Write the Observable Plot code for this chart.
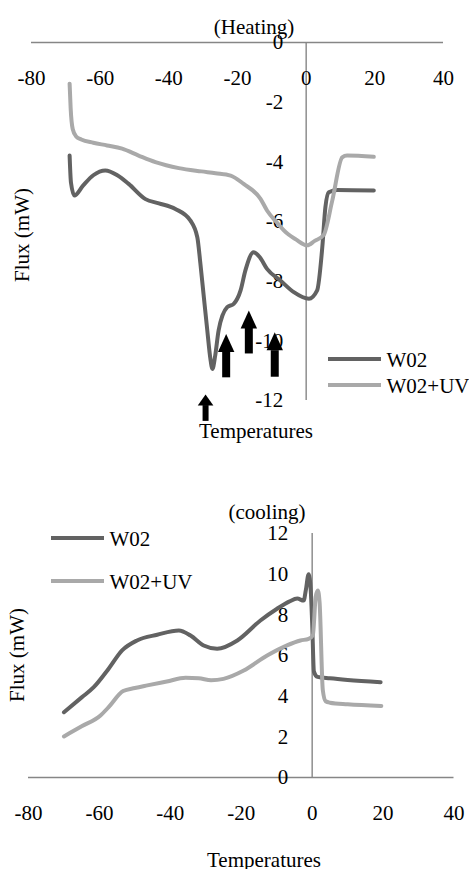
<!DOCTYPE html>
<html>
<head>
<meta charset="utf-8">
<script src="https://cdn.jsdelivr.net/npm/d3@7"></script>
<script src="https://cdn.jsdelivr.net/npm/@observablehq/plot@0.6"></script>
<style>
  html, body { margin: 0; padding: 0; background: #fff; }
  #root { position: relative; width: 469px; height: 869px; overflow: hidden;
          font-family: "Liberation Serif", "Times New Roman", serif; font-size: 21px; color: #000; }
  .panel { position: absolute; left: 0; }
  .lbl { position: absolute; line-height: 1; white-space: nowrap; transform: translate(-50%, -50%); }
  .rot { transform: translate(-50%, -50%) rotate(-90deg); }
  .leg { position: absolute; line-height: 1; white-space: nowrap; transform: translateY(-50%); }
  .legline { position: absolute; height: 4px; transform: translateY(-50%); }
</style>
</head>
<body>
<div id="root"></div>
<script>
// ---------- data ----------
const seriesNames = ["W02", "W02+UV"];
const seriesColors = ["#626262", "#a9a9a9"];
const xTicks = [-80, -60, -40, -20, 0, 20, 40];
const heatYTicks = [0, -2, -4, -6, -8, -10, -12];
const coolYTicks = [0, 2, 4, 6, 8, 10, 12];

// Heating — W02
const heatW02T = [-68.9, -68.5, -67.5, -65, -62, -58.5, -55, -51.7, -46.8, -42.9, -38.1, -33.7, -31.7, -30.8, -29.8, -28.8, -27.9, -27.3, -26.5, -25.5, -23.0, -21.1, -19.1, -17.7, -15.3, -13.5, -11.4, -7.5, -3.6, 0.8, 3.2, 4.7, 5.6, 6.6, 9.0, 19.7];
const heatW02F = [-3.79, -4.7, -5.13, -4.8, -4.45, -4.29, -4.45, -4.74, -5.25, -5.39, -5.58, -5.97, -6.53, -7.42, -8.54, -9.65, -10.6, -10.94, -10.5, -9.65, -8.87, -8.76, -8.31, -7.64, -7.03, -7.2, -7.59, -7.98, -8.37, -8.59, -8.31, -6.86, -5.52, -5.02, -4.94, -4.96];
// Heating — W02+UV
const heatUVT = [-68.9, -68.6, -68.0, -67.0, -65.5, -62, -58, -53.6, -48.8, -43.9, -37.1, -30.5, -26.4, -22, -18.2, -13.3, -11.4, -8, -6.5, -3, 0.3, 2.5, 5.1, 7.6, 10.5, 11.9, 19.7];
const heatUVF = [-1.38, -2.2, -2.9, -3.15, -3.25, -3.36, -3.45, -3.56, -3.79, -4.01, -4.21, -4.32, -4.38, -4.46, -4.74, -5.24, -5.63, -6.1, -6.3, -6.6, -6.8, -6.65, -6.45, -5.3, -3.85, -3.79, -3.83];

// Cooling — W02
const coolW02T = [-70, -65, -61.6, -57.4, -53.6, -49.4, -43.7, -37.6, -34.3, -30.6, -26.8, -21.1, -14.6, -9.9, -6.5, -4.2, -2.4, -1.8, -1.0, -0.4, 0.0, 0.5, 1.5, 5, 10, 19.3];
const coolW02F = [3.21, 3.94, 4.44, 5.35, 6.25, 6.74, 7.02, 7.23, 6.98, 6.49, 6.33, 6.74, 7.72, 8.30, 8.65, 8.8, 8.7, 9.2, 10.0, 9.2, 7.6, 5.2, 4.95, 4.88, 4.8, 4.69];
// Cooling — W02+UV
const coolUVT = [-70, -65, -59.7, -57.4, -53.3, -50, -46.5, -41, -35.7, -32, -28.5, -25, -19.3, -12.7, -7.1, -3.3, -1.0, 0.2, 1.0, 1.6, 2.1, 3.0, 3.8, 5, 10, 19.5];
const coolUVF = [2.02, 2.52, 3.05, 3.46, 4.25, 4.4, 4.53, 4.72, 4.90, 4.88, 4.78, 4.85, 5.26, 6.0, 6.5, 6.74, 6.82, 7.0, 8.9, 9.2, 8.6, 4.3, 3.75, 3.68, 3.6, 3.52];

// Arrow annotations on the heating curve (temperature, tip, neck, base)
const arrowT    = [-29.3, -23.3, -16.7, -9.15];
const arrowTip  = [-11.80, -9.77, -8.98, -9.71];
const arrowNeck = [-12.17, -10.38, -9.54, -10.33];
const arrowBase = [-12.70, -11.24, -10.44, -11.22];
const arrowBig  = [false, true, true, true];

// ---------- build ----------
const zip = (T, F, s) => T.map((t, i) => ({t, f: F[i], s}));
const heatData = [...zip(heatW02T, heatW02F, seriesNames[0]), ...zip(heatUVT, heatUVF, seriesNames[1])];
const coolData = [...zip(coolW02T, coolW02F, seriesNames[0]), ...zip(coolUVT, coolUVF, seriesNames[1])];
const arrows = arrowT.map((t, i) => ({t, tip: arrowTip[i], neck: arrowNeck[i], base: arrowBase[i], big: arrowBig[i]}));

const FONT = '"Liberation Serif", "Times New Roman", serif';
const AXIS = "#868686";
const fmt = d => String(d);

function headSymbol(ratio) {
  return {
    draw(context, size) {
      const r = Math.sqrt(size / Math.PI);
      const h = r * ratio;
      context.moveTo(0, 0);
      context.lineTo(r, h);
      context.lineTo(-r, h);
      context.closePath();
    }
  };
}

const colorScale = {domain: seriesNames, range: seriesColors};

const heat = Plot.plot({
  width: 469, height: 440,
  marginLeft: 31, marginRight: 26, marginTop: 42, marginBottom: 40,
  style: {fontFamily: FONT, fontSize: "21px", background: "transparent", overflow: "visible"},
  x: {domain: [-80, 40], axis: null},
  y: {domain: [-12, 0], axis: null},
  color: colorScale,
  marks: [
    Plot.ruleY([0], {stroke: AXIS, strokeWidth: 1.4}),
    Plot.ruleX([0], {stroke: AXIS, strokeWidth: 1.4}),
    Plot.text(xTicks, {x: d => d, y: 0, text: fmt, dy: 36, fontSize: 21, fill: "#000"}),
    Plot.text(heatYTicks, {x: 0, y: d => d, text: fmt, textAnchor: "end", dx: -23, fontSize: 21, fill: "#000"}),
    Plot.line(heatData, {x: "t", y: "f", z: "s", stroke: "s", strokeWidth: 4, curve: "monotone-x", strokeLinejoin: "round", strokeLinecap: "round"}),
    Plot.ruleX(arrows.filter(d => d.big), {x: "t", y1: "base", y2: "neck", stroke: "#000", strokeWidth: 8}),
    Plot.ruleX(arrows.filter(d => !d.big), {x: "t", y1: "base", y2: "neck", stroke: "#000", strokeWidth: 6}),
    Plot.dot(arrows.filter(d => d.big), {x: "t", y: "tip", r: 8.2, symbol: headSymbol(2.2), fill: "#000", stroke: "none"}),
    Plot.dot(arrows.filter(d => !d.big), {x: "t", y: "tip", r: 7.8, symbol: headSymbol(1.4), fill: "#000", stroke: "none"})
  ]
});

const cool = Plot.plot({
  width: 469, height: 429,
  marginLeft: 28, marginRight: 15.5, marginTop: 93, marginBottom: 92,
  style: {fontFamily: FONT, fontSize: "21px", background: "transparent", overflow: "visible"},
  x: {domain: [-80, 40], axis: null},
  y: {domain: [0, 12], axis: null},
  color: colorScale,
  marks: [
    Plot.ruleY([0], {stroke: AXIS, strokeWidth: 1.4}),
    Plot.ruleX([0], {stroke: AXIS, strokeWidth: 1.4}),
    Plot.text(xTicks, {x: d => d, y: 0, text: fmt, dy: 36, fontSize: 21, fill: "#000"}),
    Plot.text(coolYTicks, {x: 0, y: d => d, text: fmt, textAnchor: "end", dx: -24, fontSize: 21, fill: "#000"}),
    Plot.line(coolData, {x: "t", y: "f", z: "s", stroke: "s", strokeWidth: 4, curve: "monotone-x", strokeLinejoin: "round", strokeLinecap: "round"})
  ]
});

const root = document.getElementById("root");
const p1 = document.createElement("div"); p1.className = "panel"; p1.style.top = "0px"; p1.appendChild(heat);
const p2 = document.createElement("div"); p2.className = "panel"; p2.style.top = "440px"; p2.appendChild(cool);
root.appendChild(p1); root.appendChild(p2);

function label(text, x, y, rotate) {
  const d = document.createElement("div");
  d.className = "lbl" + (rotate ? " rot" : "");
  d.style.left = x + "px"; d.style.top = y + "px";
  d.textContent = text;
  root.appendChild(d);
}
label("(Heating)", 254, 27);
label("Temperatures", 256, 431);
label("Flux (mW)", 22, 235, true);
label("(cooling)", 267, 512);
label("Temperatures", 264, 860);
label("Flux (mW)", 17, 655, true);

function legend(x0, x1, ys) {
  seriesNames.forEach((name, i) => {
    const l = document.createElement("div");
    l.className = "legline";
    l.style.left = x0 + "px"; l.style.width = (x1 - x0) + "px"; l.style.top = ys[i] + "px";
    l.style.background = seriesColors[i];
    root.appendChild(l);
    const t = document.createElement("div");
    t.className = "leg";
    t.style.left = (x1 + 5.5) + "px"; t.style.top = (ys[i] + 1.5) + "px";
    t.textContent = name;
    root.appendChild(t);
  });
}
legend(328, 381, [358.5, 384.5]);
legend(51, 104, [537.5, 580.5]);
</script>
</body>
</html>
